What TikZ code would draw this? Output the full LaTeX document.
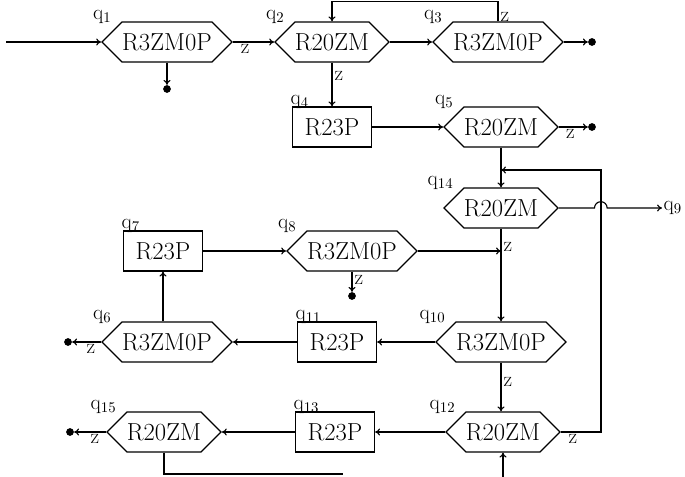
\documentclass[tikz,border=0pt]{standalone}
\usepackage{fontspec}
\usetikzlibrary{shapes.symbols,calc,arrows.meta}

\newcommand{\coordEsquema}{
\coordinate (entrada) at (6,42);
\coordinate (t2) at (332,1.5);
\coordinate (j1) at (501,170);
\coordinate (r1) at (601,170);
\coordinate (j2) at (501,251);
\coordinate (h1) at (594.5,208);
\coordinate (b1) at (343,474);
\coordinate (b2) at (503,482);
}
\newcommand{\nodosEsquema}{
\node[hexaL] (q1) at (167,42) {R3ZM0P};
\node[hexaC] (q2) at (332,42) {R20ZM};
\node[hexaL] (q3) at (498,42) {R3ZM0P};
\node[caja] (q4) at (332,127) {R23P};
\node[hexaC] (q5) at (501,127) {R20ZM};
\node[hexaC] (q14) at (501,208) {R20ZM};
\node[caja] (q7) at (163,251) {R23P};
\node[hexaL] (q8) at (352,251) {R3ZM0P};
\node[hexaL] (q6) at (167,342) {R3ZM0P};
\node[caja] (q11) at (337,342) {R23P};
\node[hexaL] (q10) at (501,342) {R3ZM0P};
\node[hexaC] (q15) at (164,432) {R20ZM};
\node[caja] (q13) at (335,432) {R23P};
\node[hexaC] (q12) at (503,432) {R20ZM};
\node[etiq,anchor=west] (q9) at (662,208) {q\textsubscript{9}};
\foreach \n/\x/\y in {d1/167/89,d3/592/42,d5/592/127,d8/352/296,d6/68/342,d15/70/432}{
\node[punto] (\n) at (\x,\y) {};
}
}
\newcommand{\nombresEsquema}{
\foreach \n/\t in {q1/1,q2/2,q3/3,q5/5,q6/6,q8/8,q10/10,q12/12,q14/14,q15/15}{
\node[etiq,anchor=south east] (e\n) at ($(\n.west |- \n.north)+(12,4)$) {q\textsubscript{\t}};
}
\foreach \n/\t in {q4/4,q7/7,q11/11,q13/13}{
\node[etiq,anchor=south west] (e\n) at ($(\n.north west)+(-3,4)$) {q\textsubscript{\t}};
}
}

\tikzset{
hexa/.style={signal,signal to=east and west,draw,fill=white,line width=0.9pt,minimum height=28.4pt,inner sep=0pt,font=\fontsize{17.5}{20}\selectfont},
hexaL/.style={hexa,minimum width=92.5pt},
hexaC/.style={hexa,minimum width=80.4pt},
caja/.style={rectangle,draw,fill=white,line width=0.9pt,minimum width=56.2pt,minimum height=28.4pt,inner sep=0pt,font=\fontsize{17.5}{20}\selectfont},
punto/.style={circle,fill=black,minimum size=5.5pt,inner sep=0pt},
etiq/.style={font=\fontsize{15}{17}\selectfont,inner sep=1pt},
zlab/.style={font=\fontsize{15}{17}\selectfont,inner sep=1.5pt},
flecha/.style={line width=0.8pt,-{To[length=3.5pt,width=5pt]}},
linea/.style={line width=0.8pt}
}

\begin{document}
\begin{tikzpicture}[x=0.025cm,y=-0.025cm]
    \path[use as bounding box,clip] (0,0) rectangle (685,477);
    \coordEsquema
    \nodosEsquema
    \nombresEsquema

    % fila superior
    \draw[flecha] (entrada) -- (q1.west);
    \draw[flecha] (q1.east) -- node[zlab,pos=0.3,below]{z} (q2.west);
    \draw[flecha] (q2.east) -- (q3.west);
    \draw[flecha] (q3.north) |- node[zlab,pos=0.1,right]{z} (t2) -- (q2.north);
    \draw[flecha] (q1.south) -- (d1);
    \draw[flecha] (q3.east) -- (d3);
    \draw[flecha] (q2.south) -- node[zlab,pos=0.3,right]{z} (q4.north);
    \draw[flecha] (q4.east) -- (q5.west);
    \draw[flecha] (q5.east) -- node[zlab,pos=0.4,below]{z} (d5);
    \draw[flecha] (q5.south) -- (q14.north);

    % salto sobre la linea de retorno
    \draw[flecha] (q14.east) -- (h1) arc[start angle=180,end angle=0,radius=4.5pt] -- (q9.west);
    \draw[flecha] (q12.east) -- node[zlab,pos=0.3,below]{z} (r1 |- q12.east) -- (r1) -- (j1);

    \draw[flecha] (q7.east) -- (q8.west);
    \draw[flecha] (q8.east) -- (j2);
    \draw[flecha] (q8.south) -- node[zlab,pos=0.4,right]{z} (d8);
    \draw[flecha] (q14.south) -- node[zlab,pos=0.2,right]{z} (q10.north);
    \draw[flecha] (q10.west) -- (q11.east);
    \draw[flecha] (q11.west) -- (q6.east);
    \draw[flecha] (q6.west) -- node[zlab,pos=0.35,below]{z} (d6);
    \draw[flecha] (q7.south |- q6.north) -- (q7.south);
    \draw[flecha] (q10.south) -- node[zlab,pos=0.4,right]{z} (q10.south |- q12.north);
    \draw[flecha] (q12.west) -- (q13.east);
    \draw[flecha] (q13.west) -- (q15.east);
    \draw[flecha] (q15.west) -- node[zlab,pos=0.35,below]{z} (d15);
    \draw[linea] (q15.south) |- (b1);
    \draw[flecha] (b2) -- (q12.south);
\end{tikzpicture}
\end{document}
